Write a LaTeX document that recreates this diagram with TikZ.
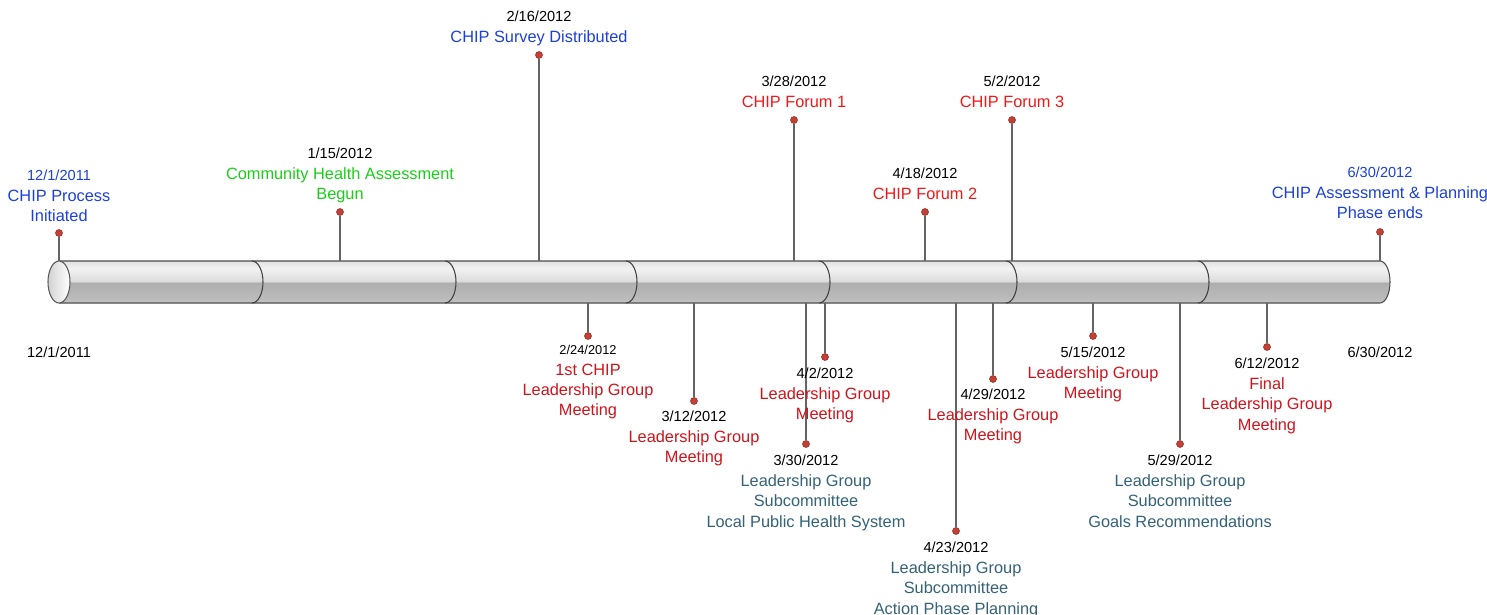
\documentclass[tikz,border=0pt]{standalone}
\usepackage{fontspec}
\setmainfont{Liberation Sans}

\definecolor{chipblue}{RGB}{28,64,216}
\definecolor{chipgreen}{RGB}{24,206,24}
\definecolor{forumred}{RGB}{240,24,24}
\definecolor{lgred}{RGB}{206,20,28}
\definecolor{subteal}{RGB}{52,98,118}
\definecolor{dotred}{RGB}{196,64,52}
\definecolor{stemgray}{RGB}{100,100,100}
\definecolor{cylA}{RGB}{208,208,208}
\definecolor{cylB}{RGB}{189,189,189}
\definecolor{cylC}{RGB}{174,174,174}
\definecolor{cylD}{RGB}{220,220,220}
\definecolor{cylW}{RGB}{242,242,242}
\definecolor{cylT}{RGB}{226,226,226}

\pgfdeclareverticalshading{cylshade}{100bp}{color(0bp)=(cylA); color(25bp)=(cylA);
  color(28bp)=(cylB); color(49bp)=(cylC); color(51bp)=(cylD); color(66bp)=(cylW);
  color(75bp)=(cylT); color(100bp)=(cylT)}

\newcommand{\evdate}[2][black]{{\fontsize{8.3}{11.6}\selectfont\color{#1}#2}}
\newcommand{\smdate}[1]{{\fontsize{7.3}{11.6}\selectfont\color{black}#1}}

\begin{document}
\begin{tikzpicture}[x=0.02cm,y=-0.02cm,
    dot/.style={circle,fill=dotred,draw=dotred!70!black,line width=0.3pt,minimum size=4pt,inner sep=0pt},
    stem/.style={draw=stemgray,line width=0.6pt},
    evt/.style={align=center,inner sep=0pt,anchor=north,font=\fontsize{9.3}{11.6}\selectfont},
    rim/.style={draw=black!75,line width=0.6pt}]

\useasboundingbox (0,0) rectangle (1487,615);

% the bar
\coordinate (top) at (0,261);
\coordinate (bot) at (0,303);
\shade[shading=cylshade] (59,261) -- (1380,261)
  arc[start angle=-90,end angle=90,x radius=10,y radius=21] -- (59,303) -- cycle;
\draw[rim,draw=black!70] (59,261) -- (1380,261)
  arc[start angle=-90,end angle=90,x radius=10,y radius=21] -- (59,303);
\foreach \m in {252,445,626,819,1006,1198}
  \draw[rim] (\m,261) arc[start angle=-90,end angle=90,x radius=11,y radius=21];
\shade[left color=gray!35,right color=white,draw=black!65,line width=0.6pt]
  (59,282) ellipse [x radius=11,y radius=21];

% events above the bar
\node[dot] (d1) at (59,233) {};
\node[dot] (d2) at (340,212) {};
\node[dot] (d3) at (539,55) {};
\node[dot] (d4) at (794,120) {};
\node[dot] (d5) at (925,212) {};
\node[dot] (d6) at (1012,120) {};
\node[dot] (d7) at (1380,232) {};

\node[evt,text=chipblue] (t1) at (59,170) {\evdate[chipblue]{12/1/2011}\\CHIP Process\\Initiated};
\node[evt,text=chipgreen] (t2) at (340,148) {\evdate{1/15/2012}\\Community Health Assessment\\Begun};
\node[evt,text=chipblue] (t3) at (539,11) {\evdate{2/16/2012}\\CHIP Survey Distributed};
\node[evt,text=forumred] (t4) at (794,76) {\evdate{3/28/2012}\\CHIP Forum 1};
\node[evt,text=forumred] (t5) at (925,168) {\evdate{4/18/2012}\\CHIP Forum 2};
\node[evt,text=forumred] (t6) at (1012,76) {\evdate{5/2/2012}\\CHIP Forum 3};
\node[evt,text=chipblue] (t7) at (1380,167) {\evdate[chipblue]{6/30/2012}\\CHIP Assessment \& Planning\\Phase ends};

\foreach \d in {d1,d2,d3,d4,d5,d6,d7}
  \draw[stem] (\d) -- (\d |- top);

% events below the bar
\node[dot] (d8) at (588,336) {};
\node[dot] (d9) at (694,401) {};
\node[dot] (d10) at (806,444) {};
\node[dot] (d11) at (825,357) {};
\node[dot] (d12) at (956,531) {};
\node[dot] (d13) at (993,379) {};
\node[dot] (d14) at (1093,336) {};
\node[dot] (d15) at (1180,444) {};
\node[dot] (d16) at (1267,347) {};

\foreach \d in {d8,d9,d10,d11,d12,d13,d14,d15,d16}
  \draw[stem] (\d) -- (\d |- bot);

\node[evt,text=lgred] (t8) at (588,345) {\smdate{2/24/2012}\\1st CHIP\\Leadership Group\\Meeting};
\node[evt,text=lgred] (t9) at (694,411) {\evdate{3/12/2012}\\Leadership Group\\Meeting};
\node[evt,text=subteal] (t10) at (806,455) {\evdate{3/30/2012}\\Leadership Group\\Subcommittee\\Local Public Health System};
\node[evt,text=lgred] (t11) at (825,368) {\evdate{4/2/2012}\\Leadership Group\\Meeting};
\node[evt,text=subteal] (t12) at (956,542) {\evdate{4/23/2012}\\Leadership Group\\Subcommittee\\Action Phase Planning};
\node[evt,text=lgred] (t13) at (993,389) {\evdate{4/29/2012}\\Leadership Group\\Meeting};
\node[evt,text=lgred] (t14) at (1093,347) {\evdate{5/15/2012}\\Leadership Group\\Meeting};
\node[evt,text=subteal] (t15) at (1180,455) {\evdate{5/29/2012}\\Leadership Group\\Subcommittee\\Goals Recommendations};
\node[evt,text=lgred] (t16) at (1267,358) {\evdate{6/12/2012}\\Final\\Leadership Group\\Meeting};

% axis ends
\node[evt] (start) at (59,347) {\evdate{12/1/2011}};
\node[evt] (end) at (1380,347) {\evdate{6/30/2012}};
\end{tikzpicture}
\end{document}
